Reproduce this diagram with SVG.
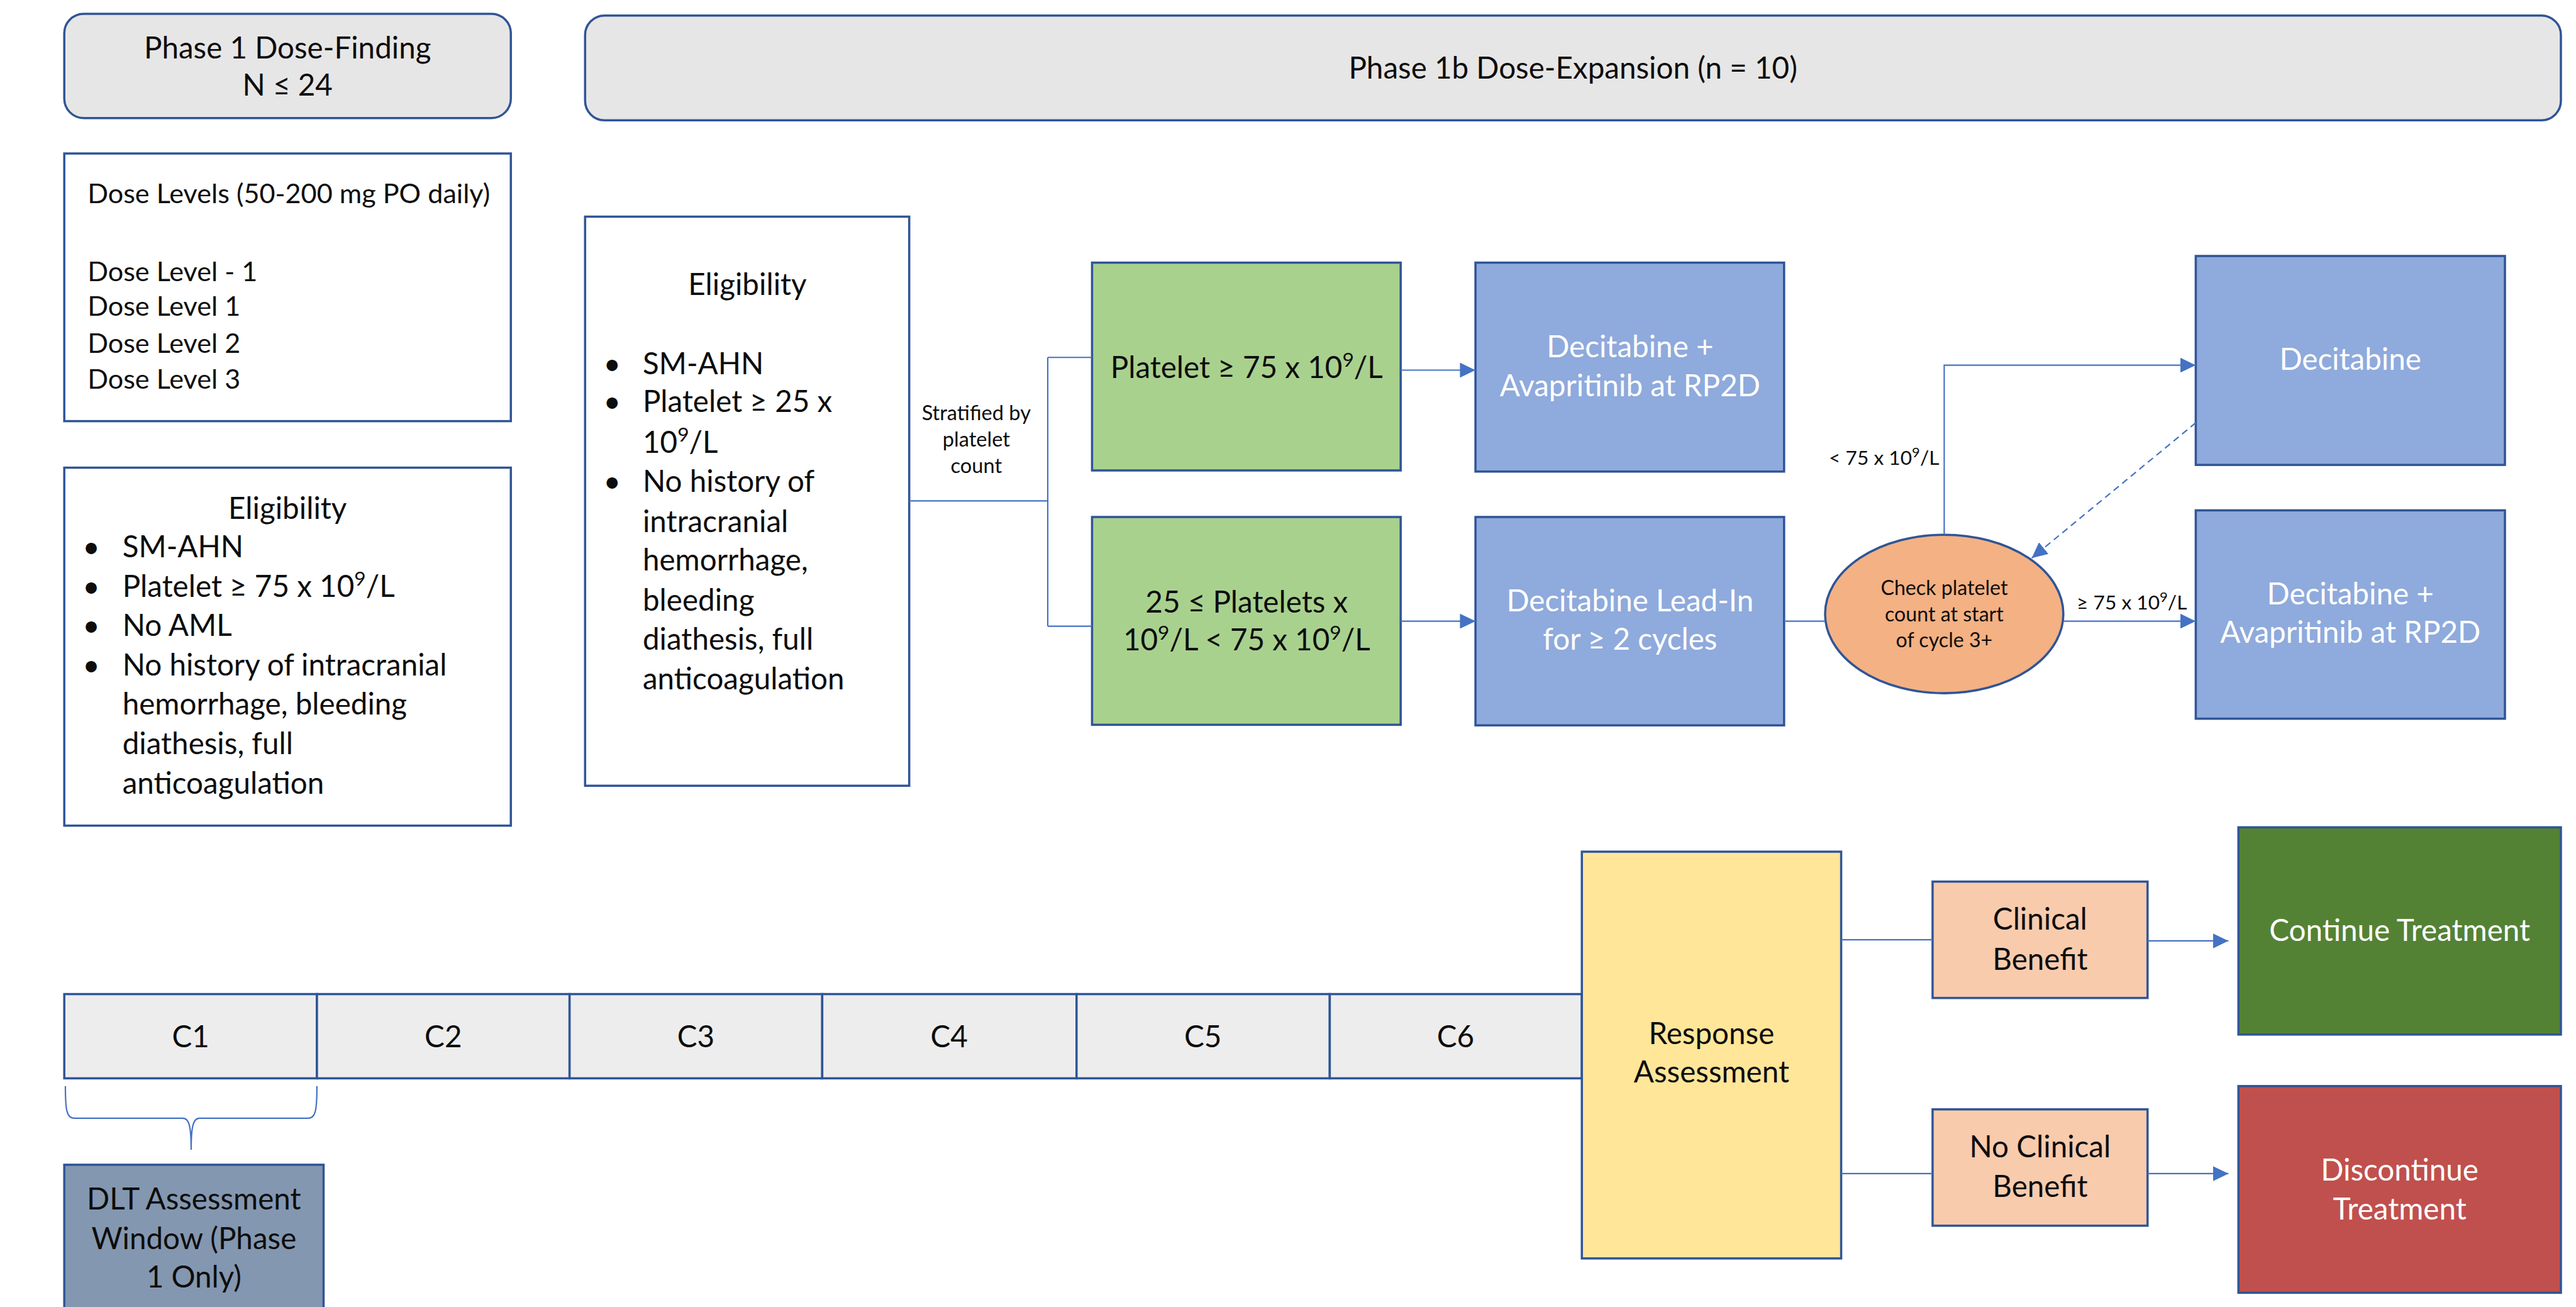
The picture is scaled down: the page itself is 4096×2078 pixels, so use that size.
<svg xmlns="http://www.w3.org/2000/svg" width="4096" height="2078" viewBox="0 0 4096 2078">
<defs>
<style>
.t{font-family:Lato,"Liberation Sans",sans-serif;fill:#0d0d0d;font-size:54px}
.w{fill:#ffffff}
.c{text-anchor:middle}
.s{font-size:37px}
.xs{font-size:36px}
.el{font-size:36.5px}
.dl{font-size:49px}
.hd{font-size:54px}
.box{stroke:#2F5597;stroke-width:4}
.ln{fill:none;stroke:#4472C4;stroke-width:2.5}
.ar{marker-end:url(#ah)}
</style>
<marker id="ah" markerUnits="userSpaceOnUse" markerWidth="28" markerHeight="27" refX="28" refY="13.5" orient="auto">
<path d="M0,0 L28,13.5 L0,27 Z" fill="#4472C4"/>
</marker>
</defs>
<rect width="4096" height="2078" fill="#ffffff"/>
<g transform="scale(0.881)">

<g id="phase1-header">
<rect class="box" x="116" y="25" width="806" height="188" rx="35" fill="#E7E6E6"/>
<text class="t hd c" x="519" y="105">Phase 1 Dose-Finding</text>
<text class="t hd c" x="519" y="173">N ≤ 24</text>
</g>

<g id="dose-levels">
<rect class="box" x="116" y="277" width="806" height="483" fill="#ffffff"/>
<text class="t dl" x="158" y="367">Dose Levels (50-200 mg PO daily)</text>
<text class="t dl" x="158" y="507">Dose Level - 1</text>
<text class="t dl" x="158" y="570">Dose Level 1</text>
<text class="t dl" x="158" y="637">Dose Level 2</text>
<text class="t dl" x="158" y="701">Dose Level 3</text>
</g>

<g id="eligibility-phase1">
<rect class="box" x="116" y="844" width="806" height="646" fill="#ffffff"/>
<text class="t c" x="519" y="936">Eligibility</text>
<text class="t" x="149" y="1006">•</text>
<text class="t" x="221" y="1006">SM-AHN</text>
<text class="t" x="149" y="1077">•</text>
<text class="t" x="221" y="1077">Platelet ≥ 75 x 10<tspan dy="-20" font-size="36">9</tspan><tspan dy="20">/L</tspan></text>
<text class="t" x="149" y="1148">•</text>
<text class="t" x="221" y="1148">No AML</text>
<text class="t" x="149" y="1219">•</text>
<text class="t" x="221" y="1219">No history of intracranial</text>
<text class="t" x="221" y="1290">hemorrhage, bleeding</text>
<text class="t" x="221" y="1361">diathesis, full</text>
<text class="t" x="221" y="1432">anticoagulation</text>
</g>

<g id="phase1b-header">
<rect class="box" x="1056" y="28" width="3566" height="189" rx="35" fill="#E7E6E6"/>
<text class="t hd c" x="2839" y="142">Phase 1b Dose-Expansion (n = 10)</text>
</g>

<g id="eligibility-phase1b">
<rect class="box" x="1056" y="391" width="585" height="1027" fill="#ffffff"/>
<text class="t c" x="1349" y="532">Eligibility</text>
<text class="t" x="1089" y="675">•</text>
<text class="t" x="1160" y="675">SM-AHN</text>
<text class="t" x="1089" y="744">•</text>
<text class="t" x="1160" y="744">Platelet ≥ 25 x</text>
<text class="t" x="1160" y="817">10<tspan dy="-20" font-size="36">9</tspan><tspan dy="20">/L</tspan></text>
<text class="t" x="1089" y="888">•</text>
<text class="t" x="1160" y="888">No history of</text>
<text class="t" x="1160" y="960">intracranial</text>
<text class="t" x="1160" y="1029">hemorrhage,</text>
<text class="t" x="1160" y="1102">bleeding</text>
<text class="t" x="1160" y="1173">diathesis, full</text>
<text class="t" x="1160" y="1244">anticoagulation</text>
</g>

<g id="platelet-high">
<rect class="box" x="1971" y="474" width="557" height="375" fill="#A9D18E"/>
<text class="t c" x="2250" y="682">Platelet ≥ 75 x 10<tspan dy="-20" font-size="36">9</tspan><tspan dy="20">/L</tspan></text>
</g>

<g id="platelet-low">
<rect class="box" x="1971" y="933" width="557" height="375" fill="#A9D18E"/>
<text class="t c" x="2250" y="1105">25 ≤ Platelets x</text>
<text class="t c" x="2250" y="1174">10<tspan dy="-20" font-size="36">9</tspan><tspan dy="20">/L &lt; 75 x 10</tspan><tspan dy="-20" font-size="36">9</tspan><tspan dy="20">/L</tspan></text>
</g>

<g id="dec-ava-1">
<rect class="box" x="2663" y="474" width="557" height="377" fill="#8FAADC"/>
<text class="t w c" x="2942" y="645">Decitabine +</text>
<text class="t w c" x="2942" y="715">Avapritinib at RP2D</text>
</g>

<g id="dec-leadin">
<rect class="box" x="2663" y="933" width="557" height="376" fill="#8FAADC"/>
<text class="t w c" x="2942" y="1103">Decitabine Lead-In</text>
<text class="t w c" x="2942" y="1172">for ≥ 2 cycles</text>
</g>

<g id="check-platelet">
<ellipse class="box" cx="3509" cy="1108" rx="215" ry="143" fill="#F4B183"/>
<text class="t el c" x="3509" y="1074">Check platelet</text>
<text class="t el c" x="3509" y="1121">count at start</text>
<text class="t el c" x="3509" y="1168">of cycle 3+</text>
</g>

<g id="decitabine">
<rect class="box" x="3963" y="462" width="558" height="377" fill="#8FAADC"/>
<text class="t w c" x="4242" y="667">Decitabine</text>
</g>

<g id="dec-ava-2">
<rect class="box" x="3963" y="921" width="558" height="376" fill="#8FAADC"/>
<text class="t w c" x="4242" y="1091">Decitabine +</text>
<text class="t w c" x="4242" y="1160">Avapritinib at RP2D</text>
</g>

<g id="cycles">
<rect class="box" x="116" y="1794" width="456" height="152" fill="#EDEDED"/>
<rect class="box" x="572" y="1794" width="456" height="152" fill="#EDEDED"/>
<rect class="box" x="1028" y="1794" width="456" height="152" fill="#EDEDED"/>
<rect class="box" x="1484" y="1794" width="459" height="152" fill="#EDEDED"/>
<rect class="box" x="1943" y="1794" width="457" height="152" fill="#EDEDED"/>
<rect class="box" x="2400" y="1794" width="455" height="152" fill="#EDEDED"/>
<text class="t c" x="344" y="1890">C1</text>
<text class="t c" x="800" y="1890">C2</text>
<text class="t c" x="1256" y="1890">C3</text>
<text class="t c" x="1713" y="1890">C4</text>
<text class="t c" x="2171" y="1890">C5</text>
<text class="t c" x="2627" y="1890">C6</text>
</g>

<g id="dlt-window">
<rect class="box" x="116" y="2102" width="468" height="300" fill="#8497B0"/>
<text class="t c" x="350" y="2183">DLT Assessment</text>
<text class="t c" x="350" y="2254">Window (Phase</text>
<text class="t c" x="350" y="2323">1 Only)</text>
</g>

<g id="response">
<rect class="box" x="2855" y="1537" width="468" height="734" fill="#FFE699"/>
<text class="t c" x="3089" y="1884">Response</text>
<text class="t c" x="3089" y="1953">Assessment</text>
</g>

<g id="clinical-benefit">
<rect class="box" x="3488" y="1591" width="388" height="210" fill="#F8CBAD"/>
<text class="t c" x="3682" y="1678">Clinical</text>
<text class="t c" x="3682" y="1750">Benefit</text>
</g>

<g id="no-clinical-benefit">
<rect class="box" x="3488" y="2002" width="388" height="210" fill="#F8CBAD"/>
<text class="t c" x="3682" y="2089">No Clinical</text>
<text class="t c" x="3682" y="2160">Benefit</text>
</g>

<g id="continue">
<rect class="box" x="4040" y="1493" width="582" height="374" fill="#548235"/>
<text class="t w c" x="4331" y="1698">Continue Treatment</text>
</g>

<g id="discontinue">
<rect class="box" x="4040" y="1960" width="582" height="373" fill="#C0504D"/>
<text class="t w c" x="4331" y="2130">Discontinue</text>
<text class="t w c" x="4331" y="2201">Treatment</text>
</g>

<g id="connectors">
<path class="ln" d="M1641,904 H1891 M1891,645 V1130 M1891,645 H1971 M1891,1130 H1971"/>
<text class="t s c" x="1762" y="758">Stratified by</text>
<text class="t s c" x="1762" y="806">platelet</text>
<text class="t s c" x="1762" y="854">count</text>
<path class="ln ar" d="M2528,668 H2663"/>
<path class="ln ar" d="M2528,1121 H2663"/>
<path class="ln" d="M3220,1121 H3294"/>
<path class="ln ar" d="M3509,965 V659 H3963"/>
<text class="t xs" x="3500" y="839" text-anchor="end">&lt; 75 x 10<tspan dy="-14" font-size="25">9</tspan><tspan dy="14">/L</tspan></text>
<path class="ln ar" d="M3963,763 L3667,1007" stroke-dasharray="12 8"/>
<path class="ln ar" d="M3725,1121 H3963"/>
<text class="t xs" x="3748" y="1100">≥ 75 x 10<tspan dy="-14" font-size="25">9</tspan><tspan dy="14">/L</tspan></text>
<path class="ln" d="M118,1960 C118,2002 120,2018 134,2018 H330 C341,2018 345,2032 345,2075 C345,2032 349,2018 360,2018 H556 C570,2018 572,2002 572,1960"/>
<path class="ln" d="M3323,1696 H3488"/>
<path class="ln" d="M3323,2118 H3488"/>
<path class="ln ar" d="M3876,1698 H4022"/>
<path class="ln ar" d="M3876,2118 H4022"/>
</g>

</g>
</svg>
